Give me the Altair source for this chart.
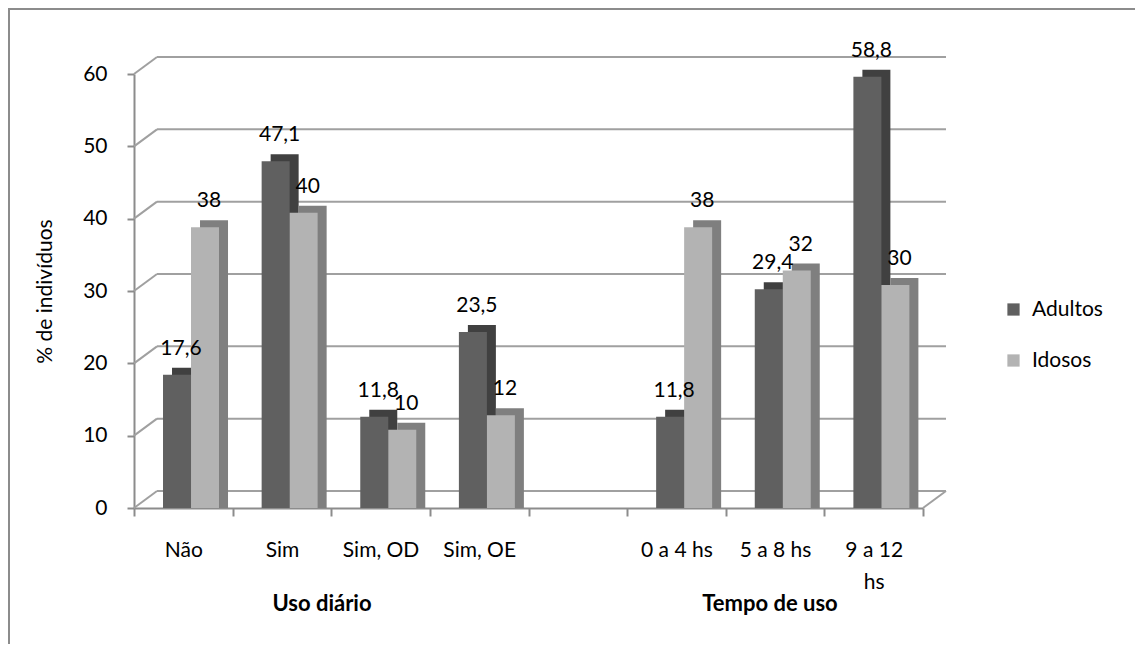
import altair as alt
import pandas as pd

categories = ["Não", "Sim", "Sim, OD", "Sim, OE", " ", "0 a 4 hs", "5 a 8 hs", "9 a 12 hs"]
adultos = [17.6, 47.1, 11.8, 23.5, None, 11.8, 29.4, 58.8]
idosos = [38, 40, 10, 12, None, 38, 32, 30]
series_names = ["Adultos", "Idosos"]
y_ticks = [0, 10, 20, 30, 40, 50, 60]
group_titles = ["Uso diário", "Tempo de uso"]
y_title = "% de indivíduos"

rows = []
for c, a, i in zip(categories, adultos, idosos):
    for s, v in zip(series_names, (a, i)):
        if v is not None:
            rows.append({"cat": c, "serie": s, "valor": v})
df = pd.DataFrame(rows)
ticks_df = pd.DataFrame({"v": y_ticks})

W, H = 789, 434
FONT = "Lato"
GRID = "#a0a0a0"
AXC = "#8c8c8c"
DX, DY = 23, -17          # depth of the 3D back wall
BAR_W = 28
FRONT_DX = {"Adultos": -6.3, "Idosos": 21.7}
DEPTH_X, DEPTH_Y = 9, -7
FLOOR_Y = -6
FRONT_COL = {"Adultos": "#606060", "Idosos": "#b3b3b3"}
SIDE_COL = {"Adultos": "#404040", "Idosos": "#7f7f7f"}
PAD = {"left": 126, "top": 66, "right": 212, "bottom": 136}

yscale = alt.Scale(domain=[0, 60], nice=False, zero=True)
xscale = alt.Scale(domain=categories, paddingInner=0, paddingOuter=0)

yaxis = alt.Axis(values=y_ticks, grid=False, domainColor=AXC, domainWidth=2,
                 tickColor=AXC, tickWidth=2, tickSize=7, labelPadding=20,
                 labelFontSize=21, labelFont=FONT, labelColor="#000",
                 title=y_title, titleFontSize=21, titleFont=FONT,
                 titleFontWeight="normal", titleColor="#000", titlePadding=27)

xaxis = alt.Axis(tickBand="extent", labelAngle=0, domainColor=AXC, domainWidth=2,
                 tickColor=AXC, tickWidth=2, tickSize=8, labelFontSize=21,
                 labelFont=FONT, labelColor="#000", labelPadding=23,
                 labelLineHeight=32, title=None,
                 labelExpr="length(datum.label) > 8 ? [slice(datum.label, 0, 6), slice(datum.label, 7)] : datum.label")


def Y(field):
    return alt.Y(field, scale=yscale, axis=yaxis, stack=None, title=y_title)


def X():
    return alt.X("cat:N", sort=categories, scale=xscale, axis=xaxis, title=None)


# back wall gridlines
back = alt.Chart(ticks_df).mark_rule(yOffset=DY, color=GRID, strokeWidth=2).encode(
    x=alt.value(DX), x2=alt.value(W + DX), y=Y("v:Q"))

# left wall diagonals
diag = alt.Chart(ticks_df).mark_rule(y2Offset=DY, color=GRID, strokeWidth=2).encode(
    x=alt.value(0), x2=alt.value(DX), y=Y("v:Q"), y2="v:Q")

# right floor diagonal
floor = alt.Chart(ticks_df).transform_filter("datum.v == 0").mark_rule(
    y2Offset=DY, color=GRID, strokeWidth=2).encode(
    x=alt.value(W), x2=alt.value(W + DX), y=Y("v:Q"), y2="v:Q")

layers = [back, diag, floor]

# side/top faces (drawn first)
for s in series_names:
    layers.append(
        alt.Chart(df).transform_filter(alt.datum.serie == s).mark_bar(
            width=BAR_W, xOffset=FRONT_DX[s] + DEPTH_X,
            yOffset=FLOOR_Y + DEPTH_Y, y2Offset=FLOOR_Y + DEPTH_Y,
            color=SIDE_COL[s]).encode(x=X(), y=Y("valor:Q")))

color = alt.Color("serie:N", sort=series_names,
                  scale=alt.Scale(domain=series_names,
                                  range=[FRONT_COL[s] for s in series_names]),
                  legend=alt.Legend(orient="none", legendX=869, legendY=225, title=None,
                                    symbolType="square", symbolSize=150,
                                    symbolStrokeWidth=0, labelFontSize=21,
                                    labelFont=FONT, labelColor="#000",
                                    rowPadding=29, labelOffset=8))

# front faces
for s in series_names:
    layers.append(
        alt.Chart(df).transform_filter(alt.datum.serie == s).mark_bar(
            width=BAR_W, xOffset=FRONT_DX[s],
            yOffset=FLOOR_Y, y2Offset=FLOOR_Y).encode(
            x=X(), y=Y("valor:Q"), color=color))

# value labels
for s in series_names:
    layers.append(
        alt.Chart(df).transform_filter(alt.datum.serie == s).transform_calculate(
            lab="replace(toString(datum.valor), '.', ',')"
        ).mark_text(xOffset=FRONT_DX[s] + 4, yOffset=FLOOR_Y, dy=-26, baseline="middle",
                    fontSize=21, font=FONT, color="#000").encode(
            x=X(), y=Y("valor:Q"), text="lab:N"))

g1 = alt.Chart(alt.Data(values=[{"t": group_titles[0]}])).mark_text(
    fontSize=22, fontWeight="bold", font=FONT, baseline="middle", color="#000").encode(
    x=alt.value(188), y=alt.value(530), text="t:N")
g2 = alt.Chart(alt.Data(values=[{"t": group_titles[1]}])).mark_text(
    fontSize=22, fontWeight="bold", font=FONT, baseline="middle", color="#000").encode(
    x=alt.value(636), y=alt.value(530), text="t:N")

# outer frame: only top and left edges fall inside the canvas
frame = alt.Chart(alt.Data(values=[{"k": 0}])).mark_rect(
    fill="transparent", stroke=AXC, strokeWidth=2).encode(
    x=alt.value(-125), x2=alt.value(W + PAD["right"] + 20),
    y=alt.value(-65), y2=alt.value(H + PAD["bottom"] + 20))

chart = alt.layer(
    frame, *layers, g1, g2
).properties(
    width=W, height=H,
    autosize=alt.AutoSizeParams(type="none"),
    padding=PAD,
).configure(font=FONT, background="white").configure_view(stroke=None)

chart.save("out.html", embed_options={"renderer": "svg", "actions": False})
